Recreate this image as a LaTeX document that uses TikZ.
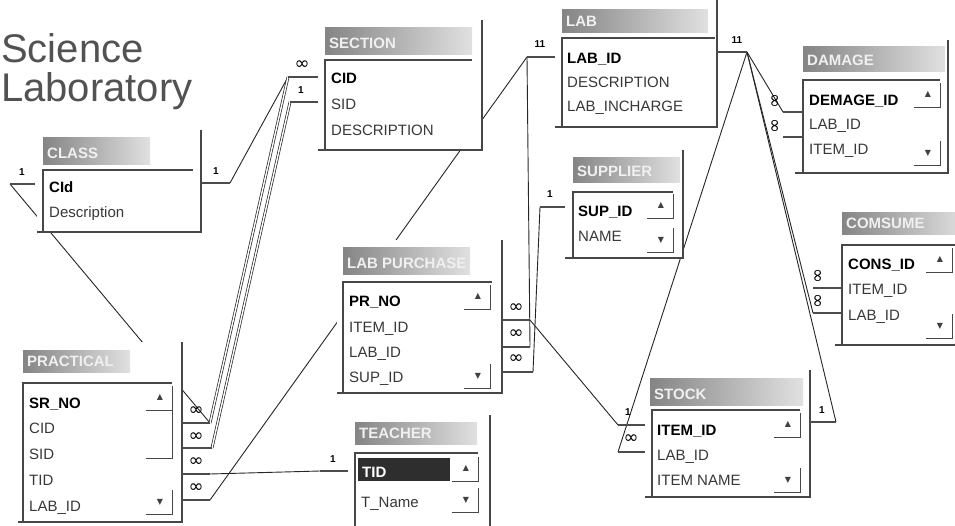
\documentclass[tikz,border=0pt]{standalone}
\usepackage{fontspec}
\setmainfont{Liberation Sans}
\newfontfamily\symf{DejaVu Sans}
\newcommand{\sbar}[4]{%
  \node[arr] (#4-up) at ({#1-12},{#2+12}) {▲};
  \draw[frame,line width=0.9pt] ({#1-26},{#2+25}) -- (#1,{#2+25}) -- (#1,{#2+1});
  \node[arr] (#4-dn) at ({#1-12},{#3-12}) {▼};
  \draw[frame,line width=0.9pt] ({#1-26},#3) -- (#1,#3) -- (#1,{#3-24});
}
\newcommand{\tbox}[4]{%
  \fill[white] (#1,#2) rectangle (#3,#4);
  \draw[frame] (#3,#2) -- (#3,#4) -- (#1,#4);
}
\newcommand{\thead}[6]{%
  \shade[hdr] (#1,#2) rectangle (#3,#4);
  \begin{scope}
    \clip (#1,#2) rectangle (#3,#4);
    \node[ttl] (#6) at ({#1+4},{#4-6}) {#5};
  \end{scope}
}
\newcommand{\tbody}[4]{%
  \draw[frame] (#3,#2) -- (#1,#2) -- (#1,#4);
}
\begin{document}
\begin{tikzpicture}[x=1pt,y=-1pt,
  frame/.style={draw=black!72, line width=1.1pt},
  conn/.style={draw=black!85, line width=0.9pt},
  dconn/.style={draw=black!85, line width=0.7pt, double=white, double distance=1.4pt},
  stubln/.style={draw=black!70, line width=2.6pt},
  hdr/.style={left color=black!48, right color=black!12},
  ttl/.style={anchor=base west, inner sep=0pt, text=white!94!black, font=\bfseries\fontsize{15}{15}\selectfont},
  fld/.style={anchor=base west, inner sep=0pt, text=black!78, font=\fontsize{15}{15}\selectfont},
  pk/.style={anchor=base west, inner sep=0pt, text=black, font=\bfseries\fontsize{15}{15}\selectfont},
  onelbl/.style={inner sep=0pt, font=\bfseries\fontsize{10}{10}\selectfont},
  manylbl/.style={inner sep=0pt, font=\symf\fontsize{18}{18}\selectfont},
  arr/.style={inner sep=0pt, text=black!75, font=\symf\fontsize{8}{8}\selectfont},
]
\useasboundingbox (0,0) rectangle (955,526);
\clip (0,0) rectangle (955,526);
\fill[white] (0,0) rectangle (955,526);

% ---------- stub end coordinates ----------
\coordinate (cL) at (10,184);
\coordinate (cR) at (230,183);
\coordinate (sC) at (288,77);
\coordinate (sS) at (290,102);
\coordinate (p1) at (210,423);
\coordinate (p2) at (212,448);
\coordinate (p3) at (210,474);
\coordinate (p4) at (210,500);
\coordinate (t1) at (320,471);
\coordinate (lL) at (527,57);
\coordinate (lR) at (747,52);
\coordinate (q1) at (530,320);
\coordinate (q2) at (530,347);
\coordinate (q3) at (533,372);
\coordinate (su) at (540,207);
\coordinate (d1) at (783,112);
\coordinate (d2) at (783,137);
\coordinate (m1) at (813,288);
\coordinate (m2) at (813,313);
\coordinate (k1) at (618,425);
\coordinate (k2) at (618,452);
\coordinate (kR) at (836,422);

% ---------- connectors (behind tables) ----------
\draw[conn] (cL) -- (p1);
\draw[conn] (cR) -- (sC);
\draw[dconn] (sC) -- (p1);
\draw[dconn] (sS) -- (p2);
\draw[conn] (p3) -- (t1);
\draw[conn] (p4) -- (lL);
\draw[conn] (lL) -- (q2);
\draw[conn] (su) -- (q3);
\draw[conn] (q1) -- (k1);
\draw[conn] (lR) -- (k2);
\draw[conn] (lR) -- (d1);
\draw[conn] (lR) -- (m2);
\draw[conn] (lR) -- (kR);

% ---------- title ----------
\node[anchor=base west, inner sep=0pt, text=black!68, font=\fontsize{40}{40}\selectfont] (ttl1) at (1,63) {Science};
\node[anchor=base west, inner sep=0pt, text=black!68, font=\fontsize{40}{40}\selectfont] (ttl2) at (1,102) {Laboratory};

% ---------- CLASS ----------
\tbox{37}{130}{201}{232}
\thead{43}{138}{150}{165}{CLASS}{class}
\tbody{43}{170}{193}{232}
\node[pk] (class-1) at (49,193) {CId};
\node[fld] (class-2) at (49,218) {Description};

% ---------- SECTION ----------
\tbox{318}{20}{482}{150}
\thead{325}{28}{472}{55}{SECTION}{section}
\tbody{325}{60}{472}{150}
\node[pk] (section-1) at (331,84) {CID};
\node[fld] (section-2) at (331,110) {SID};
\node[fld] (section-3) at (331,136) {DESCRIPTION};

% ---------- LAB ----------
\tbox{555}{0}{717}{127}
\thead{562}{10}{708}{33}{LAB}{lab}
\tbody{562}{38}{715}{127}
\node[pk] (lab-1) at (567,64) {LAB\_ID};
\node[fld] (lab-2) at (567,88) {DESCRIPTION};
\node[fld] (lab-3) at (567,112) {LAB\_INCHARGE};

% ---------- DAMAGE ----------
\tbox{795}{40}{948}{173}
\thead{803}{47}{945}{72}{DAMAGE}{damage}
\tbody{803}{80}{940}{173}
\node[pk] (damage-1) at (809,106) {DEMAGE\_ID};
\node[fld] (damage-2) at (809,130) {LAB\_ID};
\node[fld] (damage-3) at (809,155) {ITEM\_ID};
\sbar{940}{82}{165}{damage-s}

% ---------- SUPPLIER ----------
\tbox{565}{150}{683}{258}
\thead{573}{158}{680}{183}{SUPPLIER}{supplier}
\tbody{573}{192}{673}{258}
\node[pk] (supplier-1) at (578,217) {SUP\_ID};
\node[fld] (supplier-2) at (578,242) {NAME};
\sbar{673}{193}{252}{supplier-s}

% ---------- COMSUME ----------
\tbox{835}{205}{965}{345}
\thead{842}{213}{965}{235}{COMSUME}{comsume}
\tbody{842}{245}{955}{345}
\node[pk] (comsume-1) at (848,270) {CONS\_ID};
\node[fld] (comsume-2) at (848,295) {ITEM\_ID};
\node[fld] (comsume-3) at (848,321) {LAB\_ID};
\sbar{952}{247}{338}{comsume-s}

% ---------- LAB PURCHASE ----------
\tbox{337}{240}{502}{393}
\thead{343}{248}{470}{275}{LAB PURCHASE}{labpur}
\tbody{343}{282}{492}{393}
\node[pk] (labpur-1) at (349,307) {PR\_NO};
\node[fld] (labpur-2) at (349,332) {ITEM\_ID};
\node[fld] (labpur-3) at (349,357) {LAB\_ID};
\node[fld] (labpur-4) at (349,382) {SUP\_ID};
\sbar{490}{284}{388}{labpur-s}

% ---------- PRACTICAL ----------
\tbox{18}{342}{182}{522}
\thead{23}{350}{130}{372}{PRACTICAL}{practical}
\tbody{23}{383}{172}{522}
\node[pk] (practical-1) at (29,408) {SR\_NO};
\node[fld] (practical-2) at (29,433) {CID};
\node[fld] (practical-3) at (29,459) {SID};
\node[fld] (practical-4) at (29,485) {TID};
\node[fld] (practical-5) at (29,511) {LAB\_ID};
\sbar{172}{385}{514}{practical-s}
\draw[frame,line width=0.9pt] (146,458) -- (172,458) -- (172,410);

% ---------- TEACHER ----------
\tbox{348}{415}{490}{540}
\thead{355}{422}{477}{444}{TEACHER}{teacher}
\tbody{355}{453}{478}{540}
\fill[black!82] (358,458) rectangle (450,481);
\node[pk, text=white] (teacher-1) at (362,477) {TID};
\node[fld] (teacher-2) at (361,507) {T\_Name};
\sbar{478}{456}{512}{teacher-s}

% ---------- STOCK ----------
\tbox{645}{370}{810}{497}
\thead{650}{378}{803}{405}{STOCK}{stock}
\tbody{652}{410}{800}{497}
\node[pk] (stock-1) at (657,435) {ITEM\_ID};
\node[fld] (stock-2) at (657,460) {LAB\_ID};
\node[fld] (stock-3) at (657,485) {ITEM NAME};
\sbar{800}{412}{492}{stock-s}

% ---------- stubs and end labels ----------
\draw[stubln] (cL) -- (35,184);   \node[onelbl] (lbl-cL) at (22,172) {1};
\draw[stubln] (201,183) -- (cR);  \node[onelbl] (lbl-cR) at (216,171) {1};
\draw[stubln] (sC) -- (318,77);   \node[manylbl] (lbl-sC) at (302,65) {∞};
\draw[stubln] (sS) -- (318,102);  \node[onelbl] (lbl-sS) at (301,90) {1};
\draw[stubln] (182,423) -- (p1);  \node[manylbl] (lbl-p1) at (196,411) {∞};
\draw[stubln] (182,448) -- (p2);  \node[manylbl] (lbl-p2) at (196,437) {∞};
\draw[stubln] (182,474) -- (p3);  \node[manylbl] (lbl-p3) at (196,462) {∞};
\draw[stubln] (182,500) -- (p4);  \node[manylbl] (lbl-p4) at (196,488) {∞};
\draw[stubln] (t1) -- (348,471);  \node[onelbl] (lbl-t1) at (333,459) {1};
\draw[stubln] (lL) -- (555,57);   \node[onelbl] (lbl-lL) at (540,44) {11};
\draw[stubln] (717,52) -- (lR);   \node[onelbl] (lbl-lR) at (737,40) {11};
\draw[stubln] (502,320) -- (q1);  \node[manylbl] (lbl-q1) at (516,308) {∞};
\draw[stubln] (502,347) -- (q2);  \node[manylbl] (lbl-q2) at (516,334) {∞};
\draw[stubln] (502,372) -- (q3);  \node[manylbl] (lbl-q3) at (516,359) {∞};
\draw[stubln] (su) -- (565,207);  \node[onelbl] (lbl-su) at (550,194) {1};
\draw[stubln] (d1) -- (803,112);  \node[manylbl, rotate=90] (lbl-d1) at (776,101) {∞};
\draw[stubln] (d2) -- (803,137);  \node[manylbl, rotate=90] (lbl-d2) at (776,126) {∞};
\draw[stubln] (m1) -- (842,288);  \node[manylbl, rotate=90] (lbl-m1) at (819,276) {∞};
\draw[stubln] (m2) -- (842,313);  \node[manylbl, rotate=90] (lbl-m2) at (819,301) {∞};
\draw[stubln] (k1) -- (645,425);  \node[onelbl] (lbl-k1) at (628,412) {1};
\draw[stubln] (k2) -- (645,452);  \node[manylbl] (lbl-k2) at (631,439) {∞};
\draw[stubln] (810,422) -- (kR);  \node[onelbl] (lbl-kR) at (822,410) {1};
\end{tikzpicture}
\end{document}
